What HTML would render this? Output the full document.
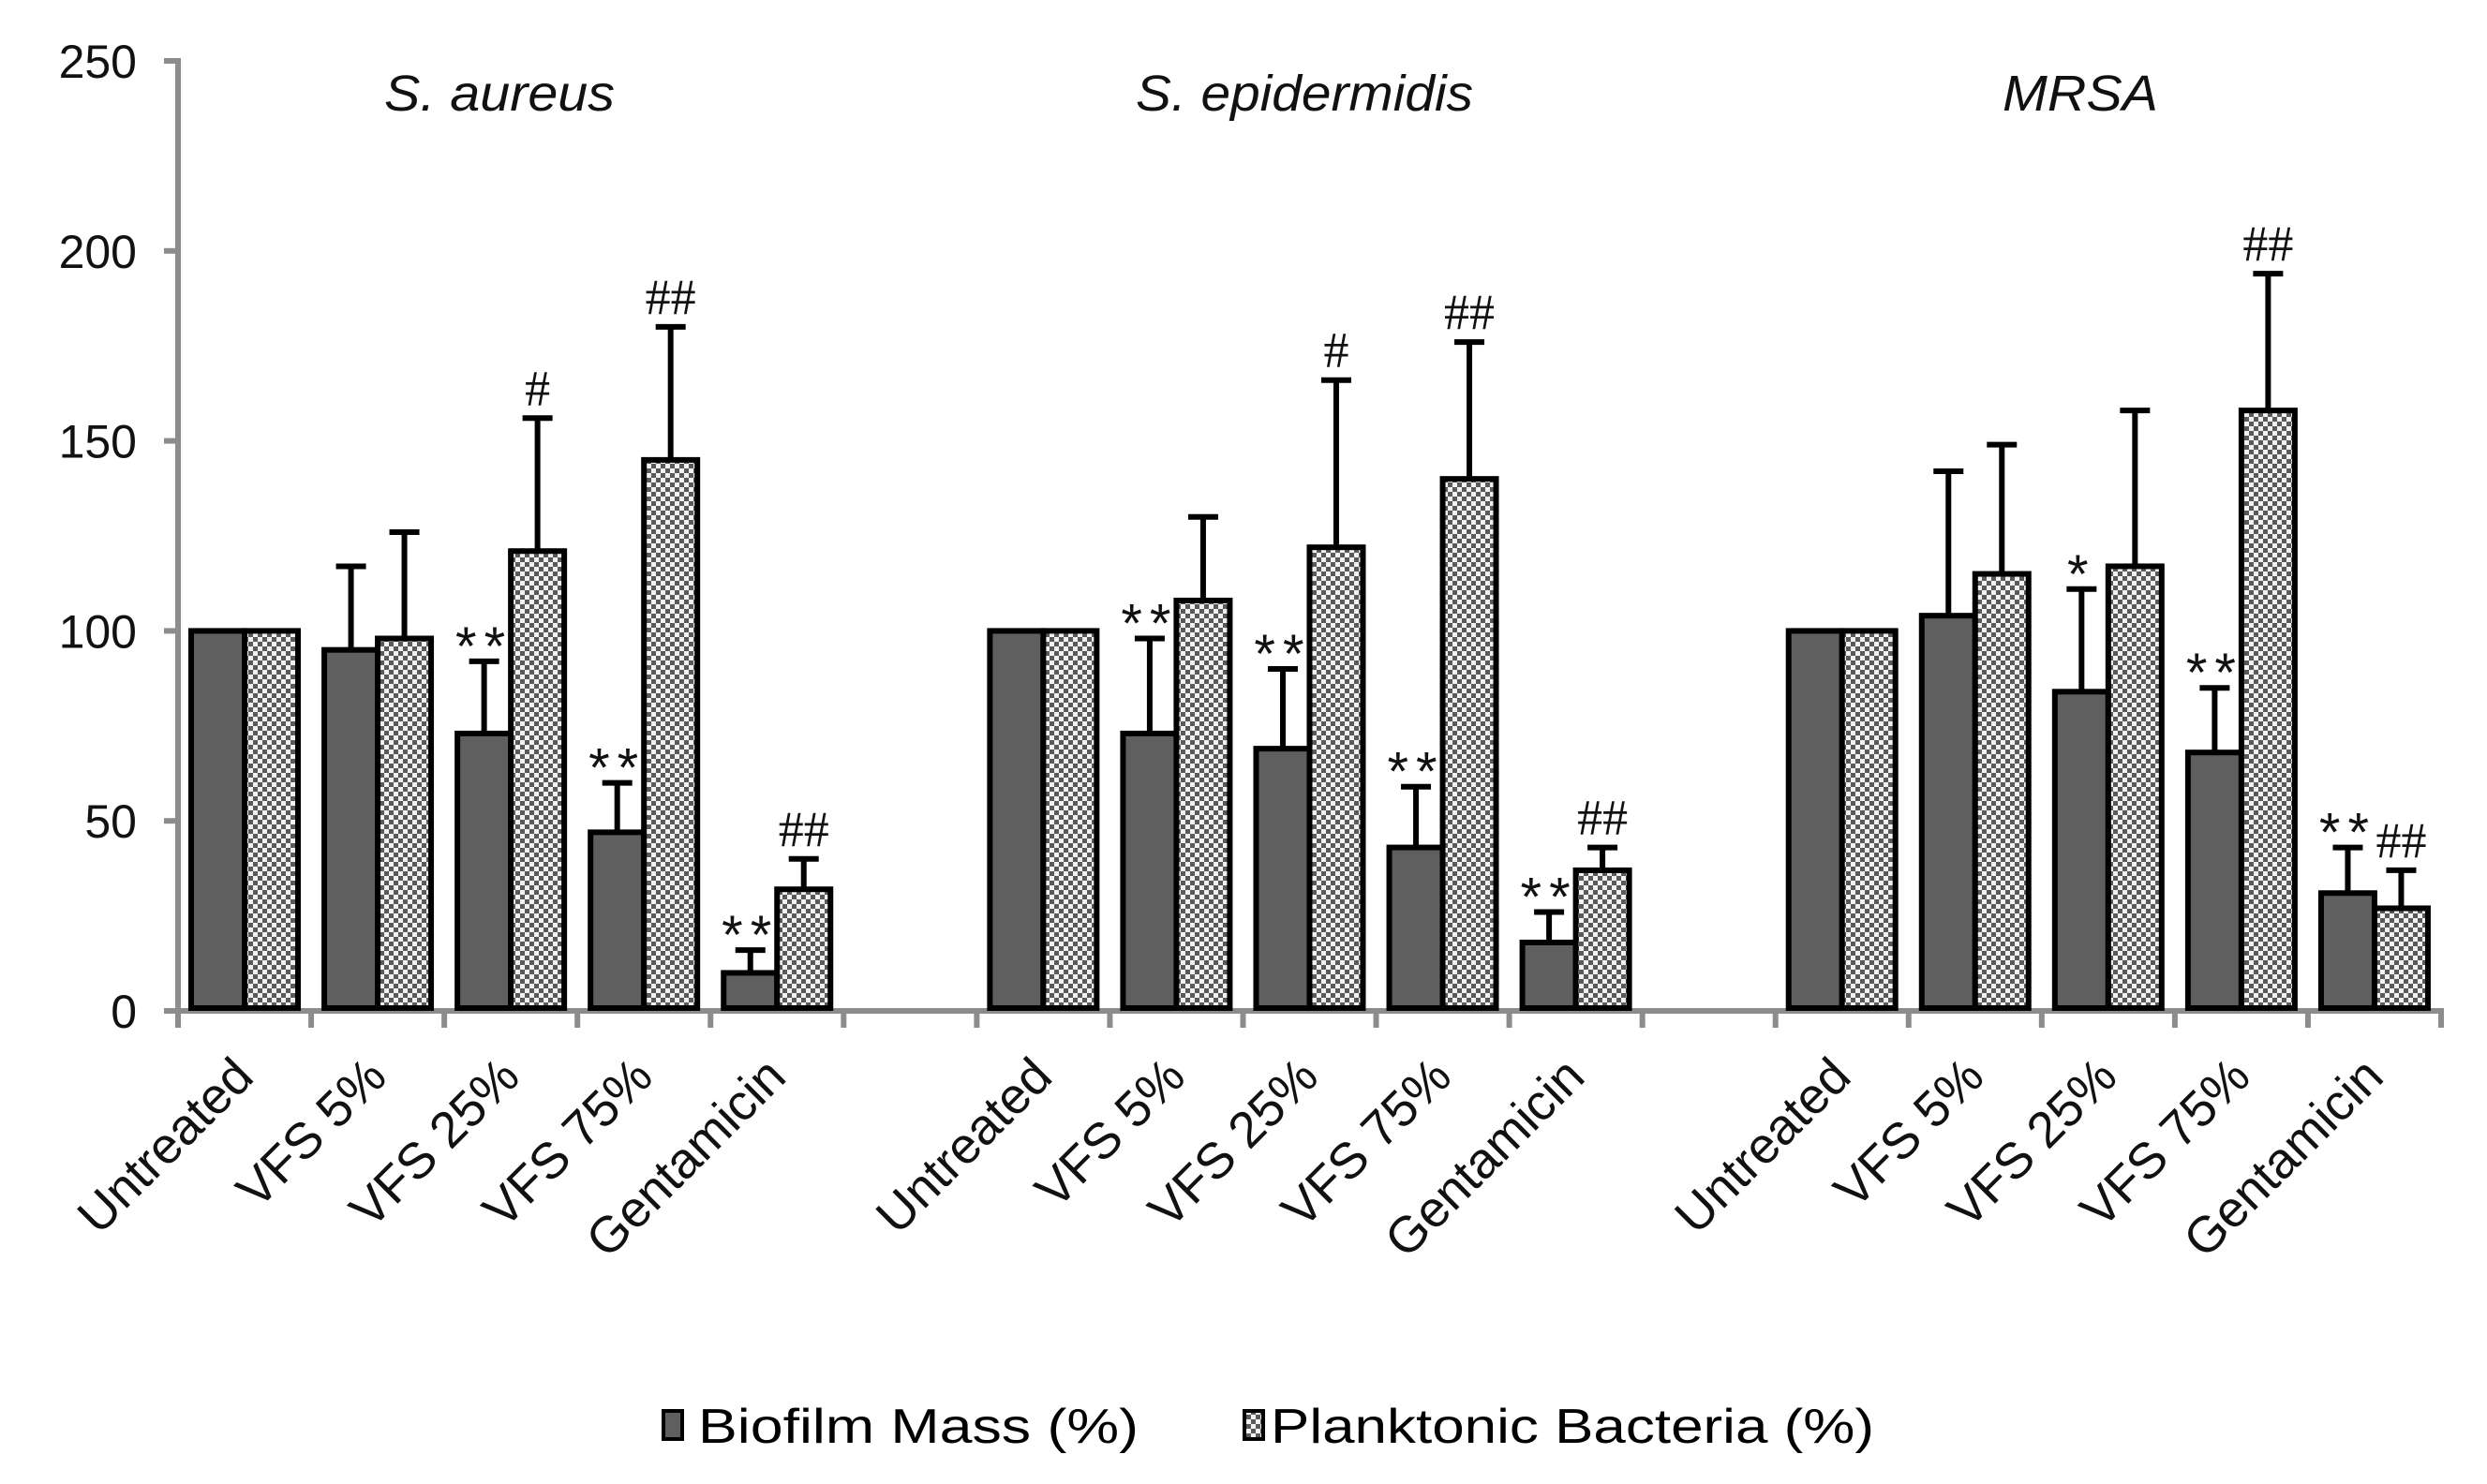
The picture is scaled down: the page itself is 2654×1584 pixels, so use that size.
<!DOCTYPE html>
<html><head><meta charset="utf-8"><style>
html,body{margin:0;padding:0;background:#fff;}
svg{display:block;font-family:"Liberation Sans",Arial,sans-serif;}
</style></head><body>
<svg id="chart" width="2654" height="1584" viewBox="0 0 2654 1584" xmlns="http://www.w3.org/2000/svg">
<defs>
<pattern id="chk" width="10" height="10" patternUnits="userSpaceOnUse">
<rect width="10" height="10" fill="#f2f2f2"/>
<rect width="5" height="5" fill="#5a5a5a"/>
<rect x="5" y="5" width="5" height="5" fill="#5a5a5a"/>
</pattern>
</defs>
<g id="axes"></g>
<g id="bars"></g>
<g id="labels"></g>
<g id="legend">
<rect x="708" y="1506" width="20" height="30" fill="#5f5f5f" stroke="#000" stroke-width="4"/>
<text x="745" y="1540" font-size="52" textLength="470" lengthAdjust="spacingAndGlyphs">Biofilm Mass (%)</text>
<rect x="1328" y="1506" width="20" height="30" fill="url(#chk)" stroke="#000" stroke-width="4"/>
<text x="1356" y="1540" font-size="52" textLength="644" lengthAdjust="spacingAndGlyphs">Planktonic Bacteria (%)</text>
</g>
</svg>
<script>
const groups = ["S. aureus", "S. epidermidis", "MRSA"];
const categories = ["Untreated", "VFS 5%", "VFS 25%", "VFS 75%", "Gentamicin"];
const biofilm = [[100, 95, 73, 47, 10], [100, 73, 69, 43, 18], [100, 104, 84, 68, 31]];
const biofilmErr = [[0, 117, 92, 60, 16], [0, 98, 90, 59, 26], [0, 142, 111, 85, 43]];
const planktonic = [[100, 98, 121, 145, 32], [100, 108, 122, 140, 37], [100, 115, 117, 158, 27]];
const planktonicErr = [[0, 126, 156, 180, 40], [0, 130, 166, 176, 43], [0, 149, 158, 194, 37]];
const biofilmMarks = [["", "", "**", "**", "**"], ["", "**", "**", "**", "**"], ["", "", "*", "**", "**"]];
const planktonicMarks = [["", "", "#", "##", "##"], ["", "", "#", "##", "##"], ["", "", "", "##", "##"]];
const yTicks = [0, 50, 100, 150, 200, 250];
const titleX = [533, 1392, 2220];

const NS = "http://www.w3.org/2000/svg";
const X0 = 190, SLOT = 142.06, Y0 = 1079, YTOP = 65, YMAX = 250;
const y = v => Y0 - (Y0 - YTOP) * v / YMAX;
const slotX = (g, c) => X0 + (g * 6 + c) * SLOT;
function mk(tag, attrs, parent) {
  const e = document.createElementNS(NS, tag);
  for (const k in attrs) e.setAttribute(k, attrs[k]);
  parent.appendChild(e);
  return e;
}
const axes = document.getElementById("axes");
const bars = document.getElementById("bars");
const labels = document.getElementById("labels");

let yl = mk("line", {x1: X0, y1: YTOP - 3, x2: X0, y2: Y0 + 18, stroke: "#8c8c8c", "stroke-width": 6}, axes);


yTicks.forEach(t => {
  const tk = mk("line", {x1: 175, y1: y(t), x2: X0, y2: y(t), stroke: "#8c8c8c", "stroke-width": 6}, axes);
  
  
  const tl = mk("text", {x: 146, y: y(t) + 18, "font-size": 50, "text-anchor": "end", fill: "#111"}, axes);
  tl.textContent = t;
  
  
});
const xEnd = X0 + 17 * SLOT;
let xl = mk("line", {x1: 175, y1: Y0, x2: xEnd + 3, y2: Y0, stroke: "#8c8c8c", "stroke-width": 6}, axes);


for (let i = 0; i <= 17; i++) {
  const tk = mk("line", {x1: X0 + i * SLOT, y1: Y0, x2: X0 + i * SLOT, y2: Y0 + 18, stroke: "#8c8c8c", "stroke-width": 6}, axes);
  
  
}

const BW = 57, OFF = 14;
const titleLen = [246, 360, 166];
groups.forEach((gname, g) => {
  const tt = mk("text", {x: titleX[g], y: 118, "font-size": 54, "font-style": "italic", "text-anchor": "middle", fill: "#111", textLength: titleLen[g], lengthAdjust: "spacingAndGlyphs"}, labels);
  tt.textContent = gname;
  
  
  categories.forEach((cat, c) => {
    const sx = slotX(g, c);
    const series = [
      {v: biofilm[g][c], e: biofilmErr[g][c], m: biofilmMarks[g][c], fill: "#5f5f5f", name: "bar-biofilm"},
      {v: planktonic[g][c], e: planktonicErr[g][c], m: planktonicMarks[g][c], fill: "url(#chk)", name: "bar-planktonic"}
    ];
    series.forEach((s, k) => {
      const bx = sx + OFF + k * BW;
      const cx = bx + BW / 2;
      if (s.e > s.v) {
        const el = mk("line", {x1: cx, y1: y(s.v), x2: cx, y2: y(s.e), stroke: "#000", "stroke-width": 6}, bars);
        
        
        const cap = mk("line", {x1: cx - 16, y1: y(s.e), x2: cx + 16, y2: y(s.e), stroke: "#000", "stroke-width": 6}, bars);
        
        
      }
      const r = mk("rect", {x: bx, y: y(s.v), width: BW, height: Y0 - 3 - y(s.v), fill: s.fill, stroke: "#000", "stroke-width": 6}, bars);
      
      
      if (s.m) {
        const top = Math.max(s.e, s.v);
        const star = s.m.indexOf("*") >= 0;
        const mt = mk("text", {x: cx, y: y(top) + (star ? 4 : -14), "font-size": star ? 58 : 54, "text-anchor": "middle", fill: "#111", "letter-spacing": star ? 8 : 0, "font-family": star ? "Liberation Sans, sans-serif" : "Liberation Serif, serif"}, bars);
        mt.textContent = s.m;
        
        
      }
    });
    const ax = sx + SLOT / 2 + 12, ay = 1152;
    const cl = mk("text", {x: ax, y: ay, "font-size": 54, "text-anchor": "end", fill: "#111", transform: `rotate(-45 ${ax} ${ay})`}, labels);
    cl.textContent = cat;
    
    
  });
});
</script>
</body></html>
